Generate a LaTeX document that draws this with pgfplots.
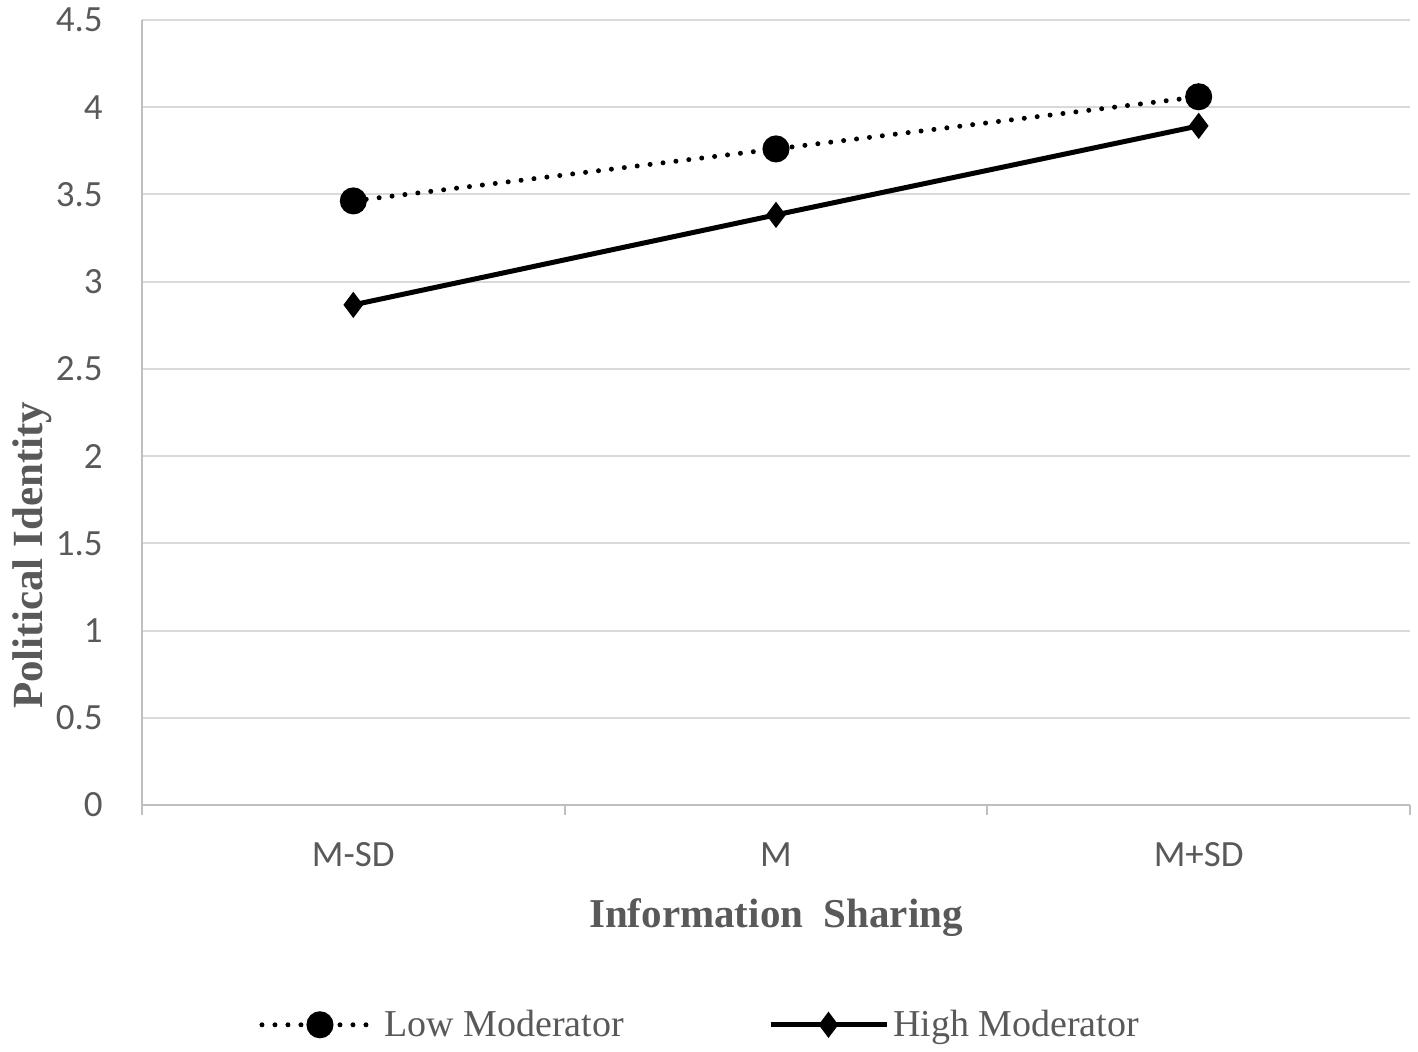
\documentclass[border=0pt]{standalone}
\usepackage{fontspec}
\setmainfont{Liberation Serif}
\newfontfamily\calibri{Carlito}
\usepackage{pgfplots}
\pgfplotsset{compat=1.18}
\definecolor{textgray}{HTML}{595959}
\definecolor{axgray}{HTML}{BFBFBF}
\definecolor{gridgray}{HTML}{D9D9D9}
\begin{document}
\begin{tikzpicture}
\begin{axis}[
    scale only axis,
    width=634pt, height=392.5pt,
    xmin=0, xmax=3, ymin=0, ymax=4.5,
    axis x line*=bottom, axis y line*=left,
    axis line style={draw=axgray, line width=1pt},
    clip=false,
    ymajorgrids,
    grid style={draw=gridgray, line width=1pt},
    ytick={0,0.5,...,4.5},
    yticklabels={0,0.5,1,1.5,2,2.5,3,3.5,4,4.5},
    ytick style={draw=none},
    yticklabel style={anchor=east, inner sep=0pt, xshift=-19.5pt},
    xtick={0.5,1.5,2.5},
    xticklabels={M-SD,M,M+SD},
    xtick style={draw=none},
    xticklabel style={anchor=base, yshift=-31pt},
    extra x ticks={0,1,2,3},
    extra x tick labels={},
    extra x tick style={xtick style={draw=axgray, line width=1pt}, major tick length=5pt, tick align=outside, grid=none},
    ticklabel style={font=\calibri\fontsize{18.5}{18.5}\selectfont, text=textgray},
    xlabel={Information\ \ Sharing},
    ylabel={Political Identity},
    every axis x label/.style={at={(axis description cs:0.5,-0.1567)}, anchor=base, font=\bfseries\fontsize{20.5}{20.5}\selectfont, text=textgray},
    every axis y label/.style={at={(axis description cs:-0.0781,0.318)}, rotate=90, anchor=base, font=\bfseries\fontsize{21.5}{21.5}\selectfont, text=textgray},
    legend columns=2,
    legend style={at={(axis description cs:0.441,-0.280)}, anchor=center, draw=none, fill=none,
        font=\fontsize{19}{19}\selectfont, text=textgray,
        /tikz/every even column/.append style={column sep=70pt}},
    legend image code/.code={
        \draw[mark repeat=2, mark phase=2, #1] plot coordinates {(0pt,0pt) (29pt,0pt) (58pt,0pt)};
    },
]
\addplot[black, line width=2.5pt, line cap=round, dash pattern=on 0pt off 6.5pt,
    mark=*, mark size=5.5pt, mark options={solid, fill=black}]
    coordinates {(0.5,3.463) (1.5,3.761) (2.5,4.060)};
\addplot[black, line width=2.5pt, mark=diamond*, mark size=4.5pt, mark options={solid, fill=black}]
    coordinates {(0.5,2.867) (1.5,3.383) (2.5,3.893)};
\legend{Low Moderator, High Moderator}
\coordinate (o) at (rel axis cs:0,0);
\end{axis}
\pgfresetboundingbox
\path (o) ++(-71pt,-123.5pt) rectangle ++(709pt,526pt);
\end{tikzpicture}
\end{document}
